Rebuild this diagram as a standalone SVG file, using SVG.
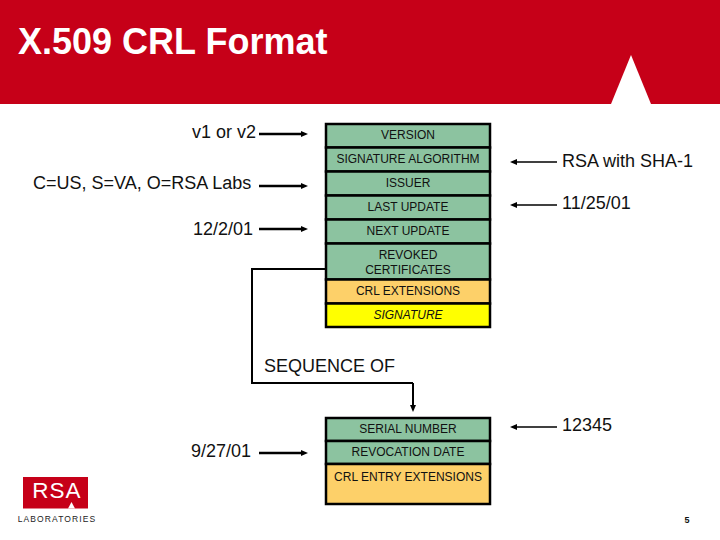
<svg xmlns="http://www.w3.org/2000/svg" width="720" height="540" viewBox="0 0 720 540">
<defs>
<marker id="ah" viewBox="0 0 7 6" refX="0" refY="3" markerWidth="7" markerHeight="6" markerUnits="userSpaceOnUse" orient="auto"><path d="M0 0L7 3L0 6z" fill="#000"/></marker>
</defs>
<style>
text{font-family:"Liberation Sans",Arial,sans-serif;fill:#111}
.c{font-size:12px;text-anchor:middle}
.l{font-size:18px}
.g{fill:#8cc3a0}.o{fill:#fdd069}.y{fill:#ffff00}
.b{stroke:#000;stroke-width:2.5}
.a1{stroke:#000;stroke-width:2.5;fill:none;marker-end:url(#ah)}
.a2{stroke:#000;stroke-width:1.5;fill:none;marker-end:url(#ah)}
.w{stroke:#000;stroke-width:2;fill:none}
</style>
<rect width="720" height="104" fill="#c60018"/>
<polygon points="631,55 611,104 651,104" fill="#fff"/>
<text x="18" y="54" style="font-size:36px;font-weight:bold;fill:#fff">X.509 CRL Format</text>

<g id="connectors">
<path class="a1" d="M259 134H301"/>
<path class="a1" d="M259 186H301"/>
<path class="a1" d="M259 229H301"/>
<path class="a2" d="M557 162H517"/>
<path class="a2" d="M557 205H517"/>
<path class="w" d="M326 269H252V383H413"/>
<path class="w" d="M413 383V405" style="marker-end:url(#ah)"/>
<path class="a2" d="M557 427H517"/>
<path class="a1" d="M259 453H301"/>
</g>

<g id="crl-table">
<g id="version"><rect class="g b" x="326" y="124" width="164" height="23.5"/><text class="c" x="408" y="139">VERSION</text></g>
<g id="signature-algorithm"><rect class="g b" x="326" y="147.5" width="164" height="24"/><text class="c" x="408" y="163">SIGNATURE ALGORITHM</text></g>
<g id="issuer"><rect class="g b" x="326" y="171.5" width="164" height="24"/><text class="c" x="408" y="187">ISSUER</text></g>
<g id="last-update"><rect class="g b" x="326" y="195.5" width="164" height="24"/><text class="c" x="408" y="211">LAST UPDATE</text></g>
<g id="next-update"><rect class="g b" x="326" y="219.5" width="164" height="24"/><text class="c" x="408" y="235">NEXT UPDATE</text></g>
<g id="revoked-certificates"><rect class="g b" x="326" y="243.5" width="164" height="36"/><text class="c" x="408" y="259">REVOKED</text><text class="c" x="408" y="274">CERTIFICATES</text></g>
<g id="crl-extensions"><rect class="o b" x="326" y="279.5" width="164" height="24"/><text class="c" x="408" y="295">CRL EXTENSIONS</text></g>
<g id="signature"><rect class="y b" x="326" y="303.5" width="164" height="23.5"/><text class="c" x="408" y="319" font-style="italic">SIGNATURE</text></g>
</g>

<g id="entry-table">
<g id="serial-number"><rect class="g b" x="326" y="418" width="164" height="23"/><text class="c" x="408" y="433">SERIAL NUMBER</text></g>
<g id="revocation-date"><rect class="g b" x="326" y="441" width="164" height="23"/><text class="c" x="408" y="456">REVOCATION DATE</text></g>
<g id="crl-entry-extensions"><rect class="o b" x="326" y="464" width="164" height="40"/><text class="c" x="408" y="481">CRL ENTRY EXTENSIONS</text></g>
</g>

<g id="labels">
<text class="l" x="192" y="138">v1 or v2</text>
<text class="l" x="33" y="189">C=US, S=VA, O=RSA Labs</text>
<text class="l" x="193" y="235">12/2/01</text>
<text class="l" x="562" y="167">RSA with SHA-1</text>
<text class="l" x="562" y="209">11/25/01</text>
<text class="l" x="264" y="372">SEQUENCE OF</text>
<text class="l" x="562" y="431">12345</text>
<text class="l" x="191" y="457">9/27/01</text>
<text x="687" y="523" style="font-size:9px;font-weight:bold" text-anchor="middle">5</text>
</g>

<g id="logo">
<rect x="23" y="477" width="65" height="31.5" fill="#c60018"/>
<polygon points="71.5,502 68,508.5 75,508.5" fill="#fff"/>
<text x="57" y="498" text-anchor="middle" style="font-size:22.5px;letter-spacing:1px;fill:#fff">RSA</text>
<text x="57" y="522" text-anchor="middle" style="font-size:8.5px;letter-spacing:1.1px;fill:#222">LABORATORIES</text>
</g>
</svg>
